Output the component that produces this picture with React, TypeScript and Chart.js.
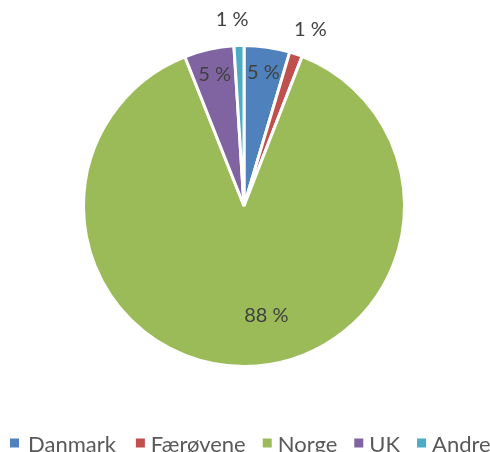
import React, { useEffect, useRef } from "react";
import { Chart, registerables } from "chart.js";

Chart.register(...registerables);

const categories = ["Danmark", "Færøvene", "Norge", "UK", "Andre"];
const values = [4.6, 1.3, 88.1, 5.0, 1.0];
const colors = ["#4F81BD", "#C0504D", "#9BBB59", "#8064A2", "#4BACC6"];

const FONT = "Lato, 'Liberation Sans', sans-serif";

const labelPlugin = {
  id: "sliceLabels",
  afterDatasetsDraw(chart: any) {
    const ctx = chart.ctx;
    const meta = chart.getDatasetMeta(0);
    ctx.save();
    ctx.font = `20px ${FONT}`;
    ctx.fillStyle = "#404040";
    ctx.textAlign = "center";
    ctx.textBaseline = "middle";
    meta.data.forEach((arc: any, i: number) => {
      const { x, y, startAngle, endAngle, outerRadius } = arc.getProps(
        ["x", "y", "startAngle", "endAngle", "outerRadius"],
        true
      );
      const mid = (startAngle + endAngle) / 2;
      const v = values[i];
      let r = outerRadius * 0.84;
      let dx = 0;
      let dy = 0;
      if (v < 2) {
        r = outerRadius + 26;
        dx = i === 4 ? -6 : 6;
      }
      if (v > 50) {
        r = outerRadius * 0.68;
        dx = 22;
      }
      const lx = x + Math.cos(mid) * r + dx;
      const ly = y + Math.sin(mid) * r + dy;
      ctx.fillText(`${Math.round(v)} %`, lx, ly);
    });
    ctx.restore();
  },
};

const legendPlugin = {
  id: "customLegend",
  afterDraw(chart: any) {
    const ctx = chart.ctx;
    ctx.save();
    ctx.font = `22px ${FONT}`;
    ctx.textBaseline = "middle";
    const box = 9;
    const gapBoxText = 6;
    const gapItems = 17;
    let x = 10;
    const y = 443;
    categories.forEach((c, i) => {
      ctx.fillStyle = colors[i];
      ctx.fillRect(x, y - box / 2, box, box);
      ctx.fillStyle = "#595959";
      ctx.textAlign = "left";
      const tx = x + box + gapBoxText + (i === 0 ? 3 : 0);
      ctx.fillText(c, tx, y + 2);
      x = tx + ctx.measureText(c).width + gapItems + (i === 0 ? 3 : 0);
    });
    ctx.restore();
  },
};

export default function App() {
  const ref = useRef<HTMLCanvasElement>(null);
  useEffect(() => {
    document.body.style.margin = "0";
    const chart = new Chart(ref.current!, {
      type: "pie",
      data: {
        labels: categories,
        datasets: [
          {
            data: values,
            backgroundColor: colors,
            borderColor: "#ffffff",
            borderWidth: 3,
          },
        ],
      },
      options: {
        responsive: false,
        animation: false,
        layout: { padding: { left: 82, right: 84, top: 44, bottom: 84 } },
        plugins: {
          legend: { display: false },
          tooltip: { enabled: false },
        },
      },
      plugins: [labelPlugin, legendPlugin],
    });
    return () => chart.destroy();
  }, []);
  return (
    <div style={{ position: "absolute", left: 0, top: 0, width: 490, height: 452 }}>
      <canvas ref={ref} width={490} height={452} />
    </div>
  );
}
